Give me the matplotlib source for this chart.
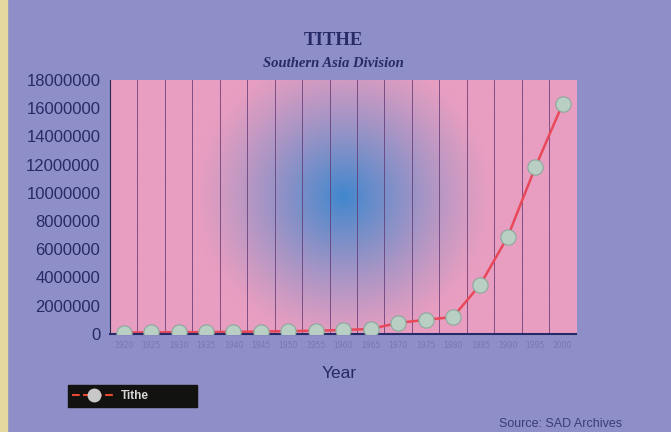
import numpy as np
import matplotlib
matplotlib.use('Agg')
import matplotlib.pyplot as plt
from matplotlib.lines import Line2D

years = ['1920', '1925', '1930', '1935', '1940', '1945', '1950', '1955', '1960',
         '1965', '1970', '1975', '1980', '1985', '1990', '1995', '2000']
tithe = [100000, 110000, 120000, 130000, 150000, 170000, 200000, 230000, 280000,
         350000, 780000, 1000000, 1200000, 3500000, 6900000, 11800000, 16300000]
yticks = [0, 2000000, 4000000, 6000000, 8000000, 10000000, 12000000,
          14000000, 16000000, 18000000]

navy = '#262a66'
fig = plt.figure(figsize=(6.71, 4.32), dpi=100)
fig.patch.set_facecolor('#8e8fc9')
# scanned yellow edge on the left
fig.patches.append(plt.Rectangle((0, 0), 0.011, 1, transform=fig.transFigure,
                                 color='#e6d9a0', zorder=0))

ax = fig.add_axes([0.164, 0.227, 0.695, 0.588])
x = np.arange(len(years))

# pink plot area with a blue glow in the middle
gx, gy = np.meshgrid(np.linspace(0, 1, 300), np.linspace(0, 1, 200))
d = np.sqrt(((gx - 0.50) / 0.32) ** 2 + ((gy - 0.54) / 0.58) ** 2)
t = np.clip(1 - d, 0, 1) ** 1.2
pink = np.array([232, 158, 192]) / 255
blue = np.array([65, 135, 205]) / 255
img = pink[None, None, :] * (1 - t[..., None]) + blue[None, None, :] * t[..., None]
ax.imshow(img, extent=(-0.5, len(years) - 0.5, 0, 18000000), aspect='auto',
          origin='lower', zorder=0)

for b in np.arange(0.5, len(years) - 0.5, 1):
    ax.axvline(b, color='#5e3470', lw=0.7, alpha=0.75, zorder=1)

ax.plot(x, tithe, color='#e8485a', lw=1.8, zorder=2)
ax.plot(x, tithe, ls='none', marker='o', ms=11, mfc='#b9cfc4', mec='#8aa89c',
        mew=0.8, zorder=3)

ax.set_xlim(-0.5, len(years) - 0.5)
ax.set_ylim(0, 18000000)
ax.set_yticks(yticks)
ax.set_yticklabels([str(v) for v in yticks], fontsize=12, color=navy,
                   family='Liberation Sans')
ax.set_xticks(x)
ax.set_xticklabels(years, fontsize=5.5, color='#7778b2')
ax.tick_params(length=0, pad=5)
ax.tick_params(axis='y', pad=7)
for s in ['top', 'right']:
    ax.spines[s].set_visible(False)
ax.spines['left'].set_color('#2a2850')
ax.spines['bottom'].set_color(navy)
ax.spines['bottom'].set_linewidth(1.5)

fig.text(0.497, 0.907, 'TITHE', ha='center', va='center', fontsize=13.5,
         fontweight='bold', family='Liberation Serif', color=navy)
fig.text(0.497, 0.853, 'Southern Asia Division', ha='center', va='center',
         fontsize=10.5, fontweight='bold', style='italic',
         family='Liberation Serif', color=navy)
fig.text(0.506, 0.125, 'Year', ha='center', fontsize=12.5, color=navy,
         family='Liberation Sans')
fig.text(0.835, 0.012, 'Source: SAD Archives', ha='center', fontsize=9,
         color='#3a3c78', family='Liberation Sans')

# black legend box
fig.patches.append(plt.Rectangle((68 / 671, 1 - 407 / 432), 129 / 671, 22 / 432,
                                 transform=fig.transFigure, color='#121210',
                                 zorder=2))
handle = Line2D([], [], color='#e84830', ls='--', lw=1.5, marker='o', ms=9,
                mfc='#c8c8c8', mec='#c8c8c8')
leg = fig.legend([handle], ['Tithe'], loc='center left',
                 bbox_to_anchor=(72 / 671, 1 - 396 / 432), frameon=False,
                 handlelength=3.2, handletextpad=0.3, borderpad=0,
                 borderaxespad=0)
leg.set_zorder(3)
for txt in leg.get_texts():
    txt.set_color('#d8d8d8')
    txt.set_fontweight('bold')
    txt.set_fontsize(8.5)
    txt.set_family('Liberation Sans')

fig.savefig('out.png', dpi=100, facecolor=fig.get_facecolor())
